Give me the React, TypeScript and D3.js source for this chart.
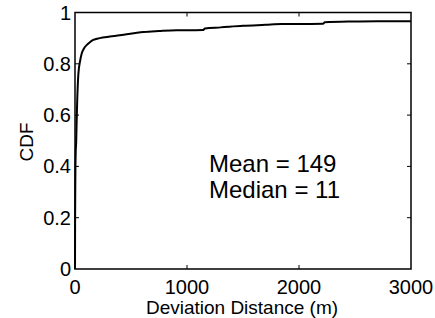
import React, { useRef, useEffect } from "react";
import * as d3 from "d3";

// CDF of deviation distance (m)
const distances = [0, 1, 3, 6, 11, 15, 20, 30, 45, 60, 80, 104, 130, 163, 220, 312, 400, 461, 540, 610, 750, 908, 1000, 1146, 1160, 1300, 1500, 1700, 1845, 2000, 2214, 2230, 2482, 2700, 3000];
const cdfValues = [0, 0.2, 0.35, 0.45, 0.5, 0.58, 0.66, 0.76, 0.81, 0.84, 0.86, 0.873, 0.883, 0.893, 0.9, 0.906, 0.911, 0.915, 0.92, 0.924, 0.928, 0.931, 0.931, 0.932, 0.938, 0.942, 0.948, 0.952, 0.955, 0.955, 0.956, 0.962, 0.965, 0.966, 0.966];
const xTicks = [0, 1000, 2000, 3000];
const yTicks = [0, 0.2, 0.4, 0.6, 0.8, 1];
const statLines = ["Mean = 149", "Median = 11"];

const W = 435;
const H = 318;

const App = () => {
  const ref = useRef<SVGSVGElement | null>(null);

  useEffect(() => {
    const svg = d3.select(ref.current);
    svg.selectAll("*").remove();

    const left = 75, right = 411, top = 12.5, bottom = 269;
    const x = d3.scaleLinear().domain([0, 3000]).range([left, right]);
    const y = d3.scaleLinear().domain([0, 1]).range([bottom, top]);
    const font = "Arial, 'Liberation Sans', Helvetica, sans-serif";

    const g = svg.append("g");

    // curve
    const pts = distances.map((d, i) => [d, cdfValues[i]] as [number, number]);
    g.append("path")
      .datum(pts)
      .attr("d", d3.line<[number, number]>().x(d => x(d[0])).y(d => y(d[1])).curve(d3.curveMonotoneX))
      .attr("fill", "none")
      .attr("stroke", "#000")
      .attr("stroke-width", 2);

    // box
    g.append("rect")
      .attr("x", left).attr("y", top)
      .attr("width", right - left).attr("height", bottom - top)
      .attr("fill", "none").attr("stroke", "#000").attr("stroke-width", 1.5);

    // inward ticks, MATLAB style
    const tl = 4;
    xTicks.slice(1, -1).forEach(t => {
      g.append("line").attr("x1", x(t)).attr("x2", x(t)).attr("y1", bottom).attr("y2", bottom - tl).attr("stroke", "#000");
      g.append("line").attr("x1", x(t)).attr("x2", x(t)).attr("y1", top).attr("y2", top + tl).attr("stroke", "#000");
    });
    yTicks.slice(1, -1).forEach(t => {
      g.append("line").attr("y1", y(t)).attr("y2", y(t)).attr("x1", left).attr("x2", left + tl).attr("stroke", "#000");
      g.append("line").attr("y1", y(t)).attr("y2", y(t)).attr("x1", right).attr("x2", right - tl).attr("stroke", "#000");
    });

    // tick labels
    g.selectAll(".xt").data(xTicks).enter().append("text")
      .attr("x", d => x(d)).attr("y", 294)
      .attr("text-anchor", "middle")
      .style("font-family", font).style("font-size", "20px")
      .text(d => String(d));

    g.selectAll(".yt").data(yTicks).enter().append("text")
      .attr("x", left - 4).attr("y", d => y(d))
      .attr("dy", "0.35em")
      .attr("text-anchor", "end")
      .style("font-family", font).style("font-size", "20px")
      .text(d => String(d));

    // axis titles
    g.append("text")
      .attr("x", 242).attr("y", 314)
      .attr("text-anchor", "middle")
      .style("font-family", font).style("font-size", "19px")
      .text("Deviation Distance (m)");

    g.append("text")
      .attr("transform", "translate(33,142) rotate(-90)")
      .attr("text-anchor", "middle")
      .style("font-family", font).style("font-size", "19px")
      .text("CDF");

    // stats
    g.selectAll(".st").data(statLines).enter().append("text")
      .attr("x", 209).attr("y", (d, i) => 172 + i * 26)
      .style("font-family", font).style("font-size", "24px")
      .text(d => d);
  }, []);

  return (
    <svg ref={ref} width={W} height={H} style={{ position: "absolute", left: 0, top: 0, background: "#fff" }} />
  );
};

export default App;
